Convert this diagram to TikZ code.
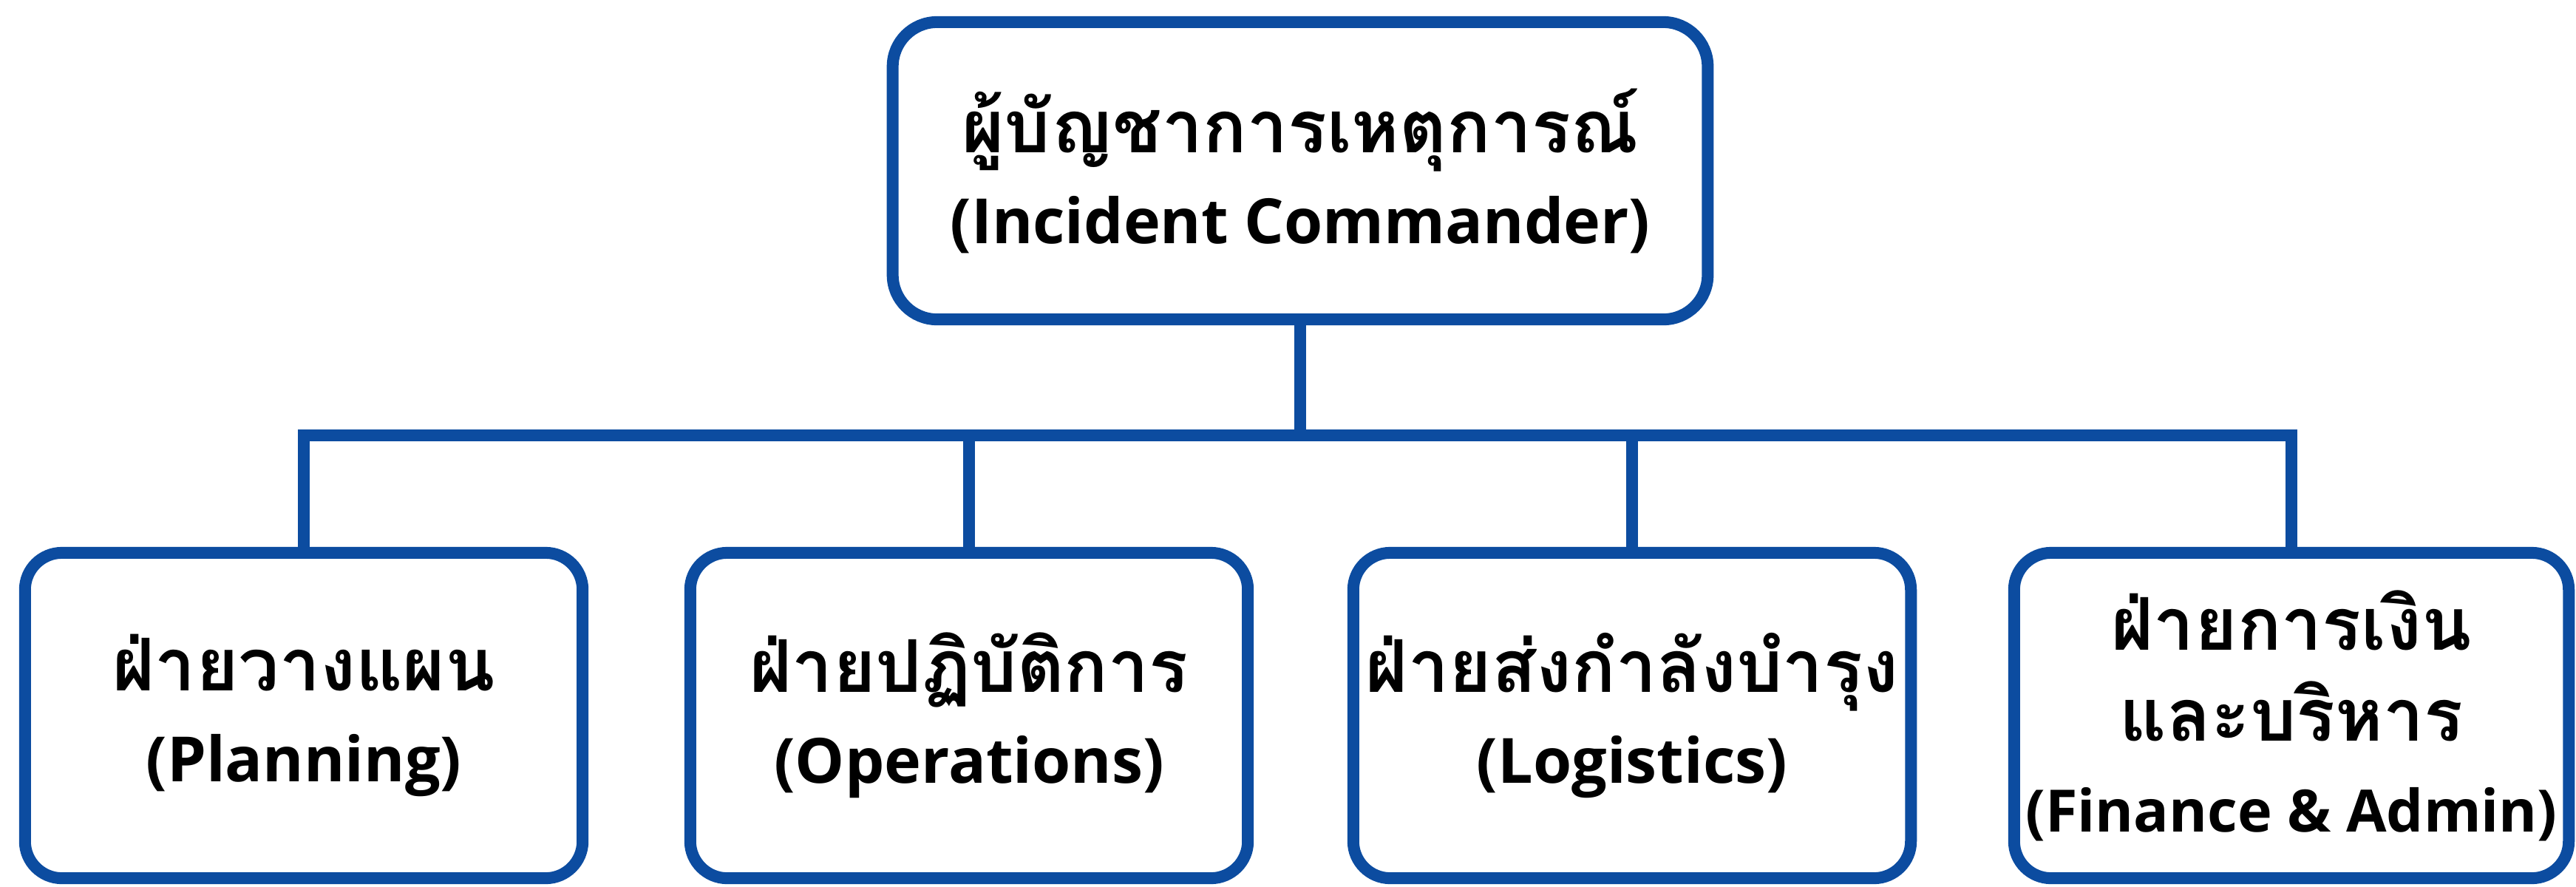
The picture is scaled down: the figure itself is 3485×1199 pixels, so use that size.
\documentclass[tikz,border=0pt]{standalone}
\usepackage{fontspec}
\setmainfont{Open Sans}
\newfontfamily\thaifont[Script=Thai]{Loma}
\newcommand\thtxt[1]{{\thaifont\fontsize{28}{35}\selectfont\bfseries #1}}
\definecolor{orgblue}{RGB}{12,76,160}
\tikzset{
  orgbox/.style={draw=orgblue, line width=0.16cm, rounded corners=0.5cm, fill=white,
    inner sep=0pt, align=center, font=\fontsize{24}{35}\selectfont\bfseries},
  link/.style={draw=orgblue, line width=0.16cm}
}
\begin{document}
\begin{tikzpicture}[x=0.01cm,y=-0.01cm]
\useasboundingbox (0,0) rectangle (3485,1199);
\fill[white] (0,0) rectangle (3485,1199);
\node[orgbox, minimum width=11.02cm, minimum height=4.02cm, rounded corners=0.6cm] (ic) at (1759,231)
  {\thtxt{ผู้บัญชาการเหตุการณ์}\\(Incident Commander)};
\node[orgbox, minimum width=7.54cm, minimum height=4.40cm] (pl) at (411,968)
  {\thtxt{ฝ่ายวางแผน}\\(Planning)};
\node[orgbox, minimum width=7.54cm, minimum height=4.40cm] (op) at (1311,968)
  {\thtxt{ฝ่ายปฏิบัติการ}\\(Operations)};
\node[orgbox, minimum width=7.54cm, minimum height=4.40cm] (lo) at (2208,968)
  {\thtxt{ฝ่ายส่งกำลังบำรุง}\\(Logistics)};
\node[orgbox, minimum width=7.50cm, minimum height=4.40cm] (fi) at (3100,968)
  {\thtxt{ฝ่ายการเงิน}\\\thtxt{และบริหาร}\\{\fontsize{22.5}{35}\selectfont(Finance \& Admin)}};
\coordinate (bus) at (1759,589);
\draw[link] (ic.south) -- (bus);
\draw[link] (pl.north) -- (pl.north |- bus) -- (fi.north |- bus) -- (fi.north);
\draw[link] (op.north) -- (op.north |- bus);
\draw[link] (lo.north) -- (lo.north |- bus);
\end{tikzpicture}
\end{document}
